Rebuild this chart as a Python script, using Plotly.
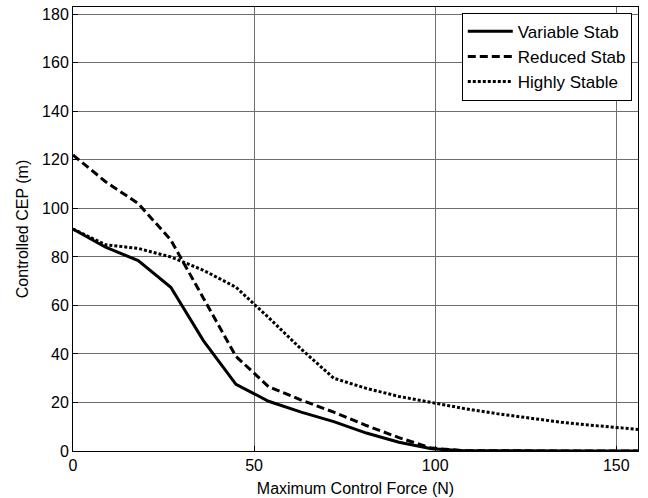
import plotly.graph_objects as go

force = [0, 9, 18, 27, 36, 45, 54, 63, 72, 81, 90, 99, 108, 117, 126, 135, 144, 153, 156]
variable_stab = [91.5, 84, 78.5, 67.5, 45.5, 27.5, 20.5, 16, 12.1, 7.4, 3.6, 0.9, 0.1, 0, 0, 0, 0, 0, 0]
reduced_stab = [122, 111, 102, 87, 63, 39, 26.5, 21, 16, 10.5, 5.5, 1.2, 0.1, 0, 0, 0, 0, 0, 0]
highly_stable = [91.5, 85, 83.5, 80, 74.5, 67.5, 55, 42, 30, 25.8, 22.5, 20, 17.5, 15.4, 13.5, 11.8, 10.5, 9.2, 8.9]

x_ticks = [0, 50, 100, 150]
y_ticks = [0, 20, 40, 60, 80, 100, 120, 140, 160, 180]

FONT = "Liberation Sans, Arial, sans-serif"

fig = go.Figure()
fig.add_trace(go.Scatter(x=force, y=variable_stab, mode="lines", name="Variable Stab",
                         line=dict(color="black", width=3)))
fig.add_trace(go.Scatter(x=force, y=reduced_stab, mode="lines", name="Reduced Stab",
                         line=dict(color="black", width=3, dash="8px,4px")))
fig.add_trace(go.Scatter(x=force, y=highly_stable, mode="lines", name="Highly Stable",
                         line=dict(color="black", width=3, dash="3px,2px")))

axis_common = dict(
    showline=True, linecolor="black", linewidth=1, mirror=True,
    ticks="inside", ticklen=5, tickcolor="black",
    showgrid=True, gridcolor="#6e6e6e", gridwidth=1,
    zeroline=False, automargin=False,
    tickfont=dict(family=FONT, size=16, color="black"),
)

fig.update_layout(
    width=648, height=498,
    margin=dict(l=73, r=10, t=7, b=47),
    paper_bgcolor="white", plot_bgcolor="white",
    font=dict(family=FONT, color="black"),
    xaxis=dict(range=[0, 156], tickvals=x_ticks,
               title=dict(text="Maximum Control Force (N)", font=dict(family=FONT, size=16), standoff=9),
               **axis_common),
    yaxis=dict(range=[0, 183], tickvals=y_ticks,
               title=dict(text="Controlled CEP (m)", font=dict(family=FONT, size=16), standoff=9),
               **axis_common),
    legend=dict(x=0.989, y=0.987, xanchor="right", yanchor="top",
                bordercolor="black", borderwidth=1, bgcolor="white",
                font=dict(family=FONT, size=17, color="black"),
                itemwidth=45, tracegroupgap=0),
    showlegend=True,
)

fig.write_html("out.html", config={"displayModeBar": False},
               post_script="document.body.style.margin='0';")
